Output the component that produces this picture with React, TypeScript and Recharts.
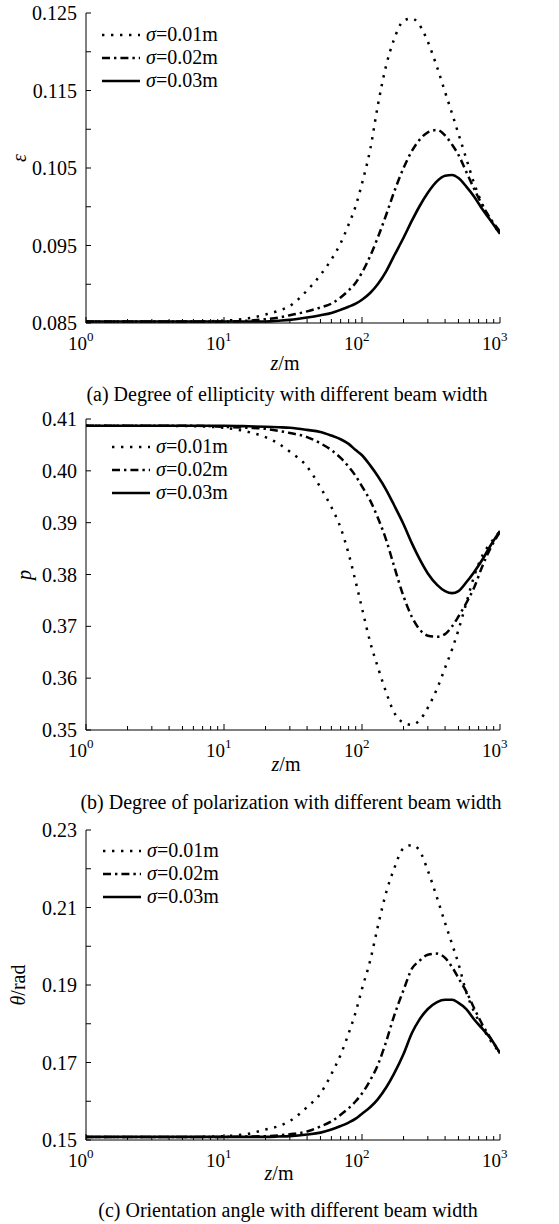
import React from 'react';
import { LineChart, Line, XAxis, YAxis, Legend } from 'recharts';

const FONT = '"Liberation Serif", "Times New Roman", Times, serif';

// propagation distance z (m)
const Z = [1, 3, 6, 10, 15, 20, 25, 30, 40, 50, 60, 70, 80, 90, 100, 115, 130, 150, 170, 200, 230, 260, 300, 350, 400, 450, 500, 570, 650, 750, 850, 1000];

// (a) degree of ellipticity
const ELL_S1 = [0.0852, 0.0852, 0.0852, 0.0853, 0.0856, 0.0861, 0.0866, 0.0872, 0.0892, 0.0912, 0.0932, 0.0953, 0.0977, 0.1001, 0.1030, 0.1075, 0.1130, 0.1183, 0.1215, 0.1240, 0.1243, 0.1235, 0.1213, 0.1180, 0.1148, 0.1120, 0.1094, 0.1062, 0.1030, 0.1002, 0.0984, 0.0965];
const ELL_S2 = [0.0852, 0.0852, 0.0852, 0.0852, 0.0853, 0.0855, 0.0857, 0.0860, 0.0865, 0.0870, 0.0875, 0.0883, 0.0892, 0.0902, 0.0915, 0.0937, 0.0960, 0.0990, 0.1018, 0.1050, 0.1072, 0.1086, 0.1096, 0.1099, 0.1092, 0.1080, 0.1067, 0.1045, 0.1023, 0.1001, 0.0985, 0.0968];
const ELL_S3 = [0.0852, 0.0852, 0.0852, 0.0852, 0.0852, 0.0852, 0.0853, 0.0854, 0.0857, 0.0860, 0.0863, 0.0867, 0.0871, 0.0875, 0.0880, 0.0889, 0.0900, 0.0917, 0.0936, 0.0960, 0.0982, 0.1000, 0.1018, 0.1033, 0.1040, 0.1041, 0.1037, 0.1026, 0.1013, 0.0996, 0.0983, 0.0965];

// (b) degree of polarization
const POL_S1 = [0.4087, 0.4087, 0.4086, 0.4083, 0.4075, 0.4065, 0.4052, 0.4037, 0.4008, 0.3968, 0.3930, 0.3890, 0.3840, 0.3786, 0.3735, 0.3668, 0.3622, 0.3572, 0.3535, 0.3514, 0.3510, 0.3518, 0.3543, 0.3580, 0.3620, 0.3656, 0.3693, 0.3745, 0.3797, 0.3838, 0.3860, 0.3883];
const POL_S2 = [0.4087, 0.4087, 0.4087, 0.4085, 0.4083, 0.4081, 0.4077, 0.4073, 0.4065, 0.4053, 0.4040, 0.4025, 0.4008, 0.3990, 0.3970, 0.3942, 0.3910, 0.3866, 0.3818, 0.3758, 0.3718, 0.3695, 0.3682, 0.3680, 0.3685, 0.3700, 0.3719, 0.3745, 0.3775, 0.3818, 0.3850, 0.3882];
const POL_S3 = [0.4087, 0.4087, 0.4087, 0.4087, 0.4086, 0.4085, 0.4084, 0.4083, 0.4079, 0.4075, 0.4068, 0.4061, 0.4052, 0.4040, 0.4030, 0.4010, 0.3990, 0.3963, 0.3935, 0.3897, 0.3860, 0.3831, 0.3802, 0.3780, 0.3768, 0.3764, 0.3768, 0.3785, 0.3805, 0.3830, 0.3855, 0.3884];

// (c) orientation angle
const THETA_S1 = [0.1508, 0.1508, 0.1508, 0.1510, 0.1516, 0.1527, 0.1536, 0.1549, 0.1585, 0.1620, 0.1670, 0.1720, 0.1775, 0.1830, 0.1890, 0.1965, 0.2050, 0.2140, 0.2198, 0.2253, 0.2261, 0.2248, 0.2195, 0.2125, 0.2060, 0.2005, 0.1955, 0.1881, 0.1831, 0.1789, 0.1758, 0.1724];
const THETA_S2 = [0.1508, 0.1508, 0.1508, 0.1508, 0.1509, 0.1510, 0.1512, 0.1515, 0.1522, 0.1535, 0.1548, 0.1565, 0.1582, 0.1600, 0.1620, 0.1655, 0.1693, 0.1755, 0.1818, 0.1887, 0.1942, 0.1962, 0.1978, 0.1981, 0.1970, 0.1946, 0.1918, 0.1883, 0.1840, 0.1796, 0.1764, 0.1724];
const THETA_S3 = [0.1508, 0.1508, 0.1508, 0.1508, 0.1508, 0.1508, 0.1509, 0.1510, 0.1514, 0.1519, 0.1527, 0.1536, 0.1545, 0.1555, 0.1568, 0.1585, 0.1605, 0.1636, 0.1670, 0.1722, 0.1776, 0.1810, 0.1838, 0.1856, 0.1862, 0.1862, 0.1854, 0.1838, 0.1811, 0.1786, 0.1763, 0.1724];

const X_TICKS = [1, 2, 3, 4, 5, 6, 7, 8, 9, 10, 20, 30, 40, 50, 60, 70, 80, 90, 100, 200, 300, 400, 500, 600, 700, 800, 900, 1000];
const X_MAJOR = [1, 10, 100, 1000];

const Y_TICKS_ELL = [0.085, 0.09, 0.095, 0.1, 0.105, 0.11, 0.115, 0.12, 0.125];
const Y_LABELS_ELL = ['0.085', '0.095', '0.105', '0.115', '0.125'];
const Y_TICKS_POL = [0.35, 0.36, 0.37, 0.38, 0.39, 0.4, 0.41];
const Y_LABELS_POL = ['0.35', '0.36', '0.37', '0.38', '0.39', '0.40', '0.41'];
const Y_TICKS_THETA = [0.15, 0.16, 0.17, 0.18, 0.19, 0.2, 0.21, 0.22, 0.23];
const Y_LABELS_THETA = ['0.15', '0.17', '0.19', '0.21', '0.23'];

const SIGMA_LABELS = ['0.01m', '0.02m', '0.03m'];

const STYLES = [
  { dash: '2.4 6.6', width: 2.5 },
  { dash: '8 4 2.4 4', width: 2.5 },
  { dash: undefined as string | undefined, width: 2.6 },
];

const buildRows = (a: number[], b: number[], c: number[]) =>
  Z.map((z, i) => ({ z, s1: a[i], s2: b[i], s3: c[i] }));

const BottomTick = (props: any) => {
  const { x, y, payload } = props;
  const v = payload.value;
  const major = X_MAJOR.includes(v);
  const exp = Math.round(Math.log10(v));
  return (
    <g>
      <line x1={x} y1={y} x2={x} y2={y - (major ? 6 : 4)} stroke="#000" strokeWidth={1} />
      {major && (
        <text x={x + 1} y={y + 27} textAnchor="end" fontSize={19} fontFamily={FONT} fill="#000">10</text>
      )}
      {major && (
        <text x={x + 1} y={y + 18} textAnchor="start" fontSize={13} fontFamily={FONT} fill="#000">{exp}</text>
      )}
    </g>
  );
};

const TopTick = (props: any) => {
  const { x, y, payload } = props;
  const major = X_MAJOR.includes(payload.value);
  return <line x1={x} y1={y} x2={x} y2={y + (major ? 6 : 4)} stroke="#000" strokeWidth={1} />;
};

const makeLeftTick = (labels: string[], decimals: number) => (props: any) => {
  const { x, y, payload } = props;
  const s = Number(payload.value).toFixed(decimals);
  return (
    <g>
      <line x1={x} y1={y} x2={x + 5} y2={y} stroke="#000" strokeWidth={1} />
      {labels.includes(s) && (
        <text x={x - 9} y={y} dy="0.35em" textAnchor="end" fontSize={20} fontFamily={FONT} fill="#000">{s}</text>
      )}
    </g>
  );
};

const RightTick = (props: any) => {
  const { x, y } = props;
  return <line x1={x} y1={y} x2={x - 5} y2={y} stroke="#000" strokeWidth={1} />;
};

const LegendContent = () => (
  <div style={{ fontFamily: FONT, fontSize: 20, color: '#000' }}>
    {SIGMA_LABELS.map((lab, i) => (
      <div key={lab} style={{ display: 'flex', alignItems: 'center', height: 23 }}>
        <svg width={40} height={10} style={{ display: 'block' }}>
          <line x1={1} y1={5} x2={39} y2={5} stroke="#000" strokeWidth={STYLES[i].width} strokeDasharray={STYLES[i].dash} />
        </svg>
        <span style={{ marginLeft: 5, lineHeight: '23px', whiteSpace: 'nowrap' }}>
          <i>σ</i>=0.0{i + 1}m
        </span>
      </div>
    ))}
  </div>
);

type PanelProps = {
  top: number;
  plotTop: number;
  plotBottom: number;
  rows: any[];
  yDomain: [number, number];
  yTicks: number[];
  yLabels: string[];
  yDecimals: number;
  legendTop: number;
  legendLeft: number;
};

const Panel = (p: PanelProps) => {
  const axisH = 45;
  const height = p.plotBottom - p.top + axisH;
  const LeftTick = makeLeftTick(p.yLabels, p.yDecimals);
  return (
    <div style={{ position: 'absolute', left: 0, top: p.top }}>
      <LineChart width={559} height={height} data={p.rows} margin={{ top: p.plotTop - p.top, right: 59, bottom: 0, left: 0 }}>
        <XAxis xAxisId="b" dataKey="z" type="number" scale="log" domain={[1, 1000]} ticks={X_TICKS} interval={0}
          height={axisH} tickSize={0} tickMargin={0} tickLine={false} axisLine={{ stroke: '#000' }} tick={BottomTick} allowDataOverflow />
        <XAxis xAxisId="t" orientation="top" dataKey="z" type="number" scale="log" domain={[1, 1000]} ticks={X_TICKS} interval={0}
          height={0} tickSize={0} tickMargin={0} tickLine={false} axisLine={{ stroke: '#000' }} tick={TopTick} allowDataOverflow />
        <YAxis yAxisId="l" type="number" domain={p.yDomain} ticks={p.yTicks} interval={0} width={86}
          tickSize={0} tickMargin={0} tickLine={false} axisLine={{ stroke: '#000' }} tick={LeftTick} allowDataOverflow />
        <YAxis yAxisId="r" orientation="right" type="number" domain={p.yDomain} ticks={p.yTicks} interval={0} width={0}
          tickSize={0} tickMargin={0} tickLine={false} axisLine={{ stroke: '#000' }} tick={RightTick} allowDataOverflow />
        <Legend layout="vertical" align="center" verticalAlign="middle" content={LegendContent}
          wrapperStyle={{ top: p.legendTop, left: p.legendLeft, width: 'auto', height: 'auto' }} />
        {(['s1', 's2', 's3'] as const).map((k, i) => (
          <Line key={k} xAxisId="b" yAxisId="l" dataKey={k} name={`σ=${SIGMA_LABELS[i]}`} type="monotone"
            stroke="#000" strokeWidth={STYLES[i].width} strokeDasharray={STYLES[i].dash}
            dot={false} activeDot={false} isAnimationActive={false} />
        ))}
      </LineChart>
    </div>
  );
};

export default function App() {
  const txt = { fontFamily: FONT, fill: '#000' } as const;
  return (
    <div style={{ position: 'absolute', left: 0, top: 0, width: 559, height: 1224, background: '#fff', overflow: 'hidden' }}>
      <Panel top={0} plotTop={13} plotBottom={323} rows={buildRows(ELL_S1, ELL_S2, ELL_S3)}
        yDomain={[0.085, 0.125]} yTicks={Y_TICKS_ELL} yLabels={Y_LABELS_ELL} yDecimals={3}
        legendTop={23} legendLeft={101} />
      <Panel top={406} plotTop={419} plotBottom={730} rows={buildRows(POL_S1, POL_S2, POL_S3)}
        yDomain={[0.35, 0.41]} yTicks={Y_TICKS_POL} yLabels={Y_LABELS_POL} yDecimals={2}
        legendTop={29} legendLeft={111} />
      <Panel top={817} plotTop={830} plotBottom={1140} rows={buildRows(THETA_S1, THETA_S2, THETA_S3)}
        yDomain={[0.15, 0.23]} yTicks={Y_TICKS_THETA} yLabels={Y_LABELS_THETA} yDecimals={2}
        legendTop={22} legendLeft={102} />
      <svg width={559} height={1224} style={{ position: 'absolute', left: 0, top: 0, pointerEvents: 'none' }}>
        <text transform="translate(26,158) rotate(-90)" textAnchor="middle" fontSize={20} fontStyle="italic" {...txt}>ε</text>
        <text transform="translate(31,575) rotate(-90)" textAnchor="middle" fontSize={20} fontStyle="italic" {...txt}>p</text>
        <text transform="translate(25,985) rotate(-90)" textAnchor="middle" fontSize={20} {...txt}>
          <tspan fontStyle="italic">θ</tspan>/rad
        </text>
        <text x={285} y={370} textAnchor="middle" fontSize={20} {...txt}><tspan fontStyle="italic">z</tspan>/m</text>
        <text x={286} y={771} textAnchor="middle" fontSize={20} {...txt}><tspan fontStyle="italic">z</tspan>/m</text>
        <text x={279} y={1180} textAnchor="middle" fontSize={20} {...txt}><tspan fontStyle="italic">z</tspan>/m</text>
        <text x={287} y={401} textAnchor="middle" fontSize={20} {...txt}>(a) Degree of ellipticity with different beam width</text>
        <text x={291} y={809} textAnchor="middle" fontSize={20} {...txt}>(b) Degree of polarization with different beam width</text>
        <text x={288} y={1217} textAnchor="middle" fontSize={20} {...txt}>(c) Orientation angle with different beam width</text>
      </svg>
    </div>
  );
}
